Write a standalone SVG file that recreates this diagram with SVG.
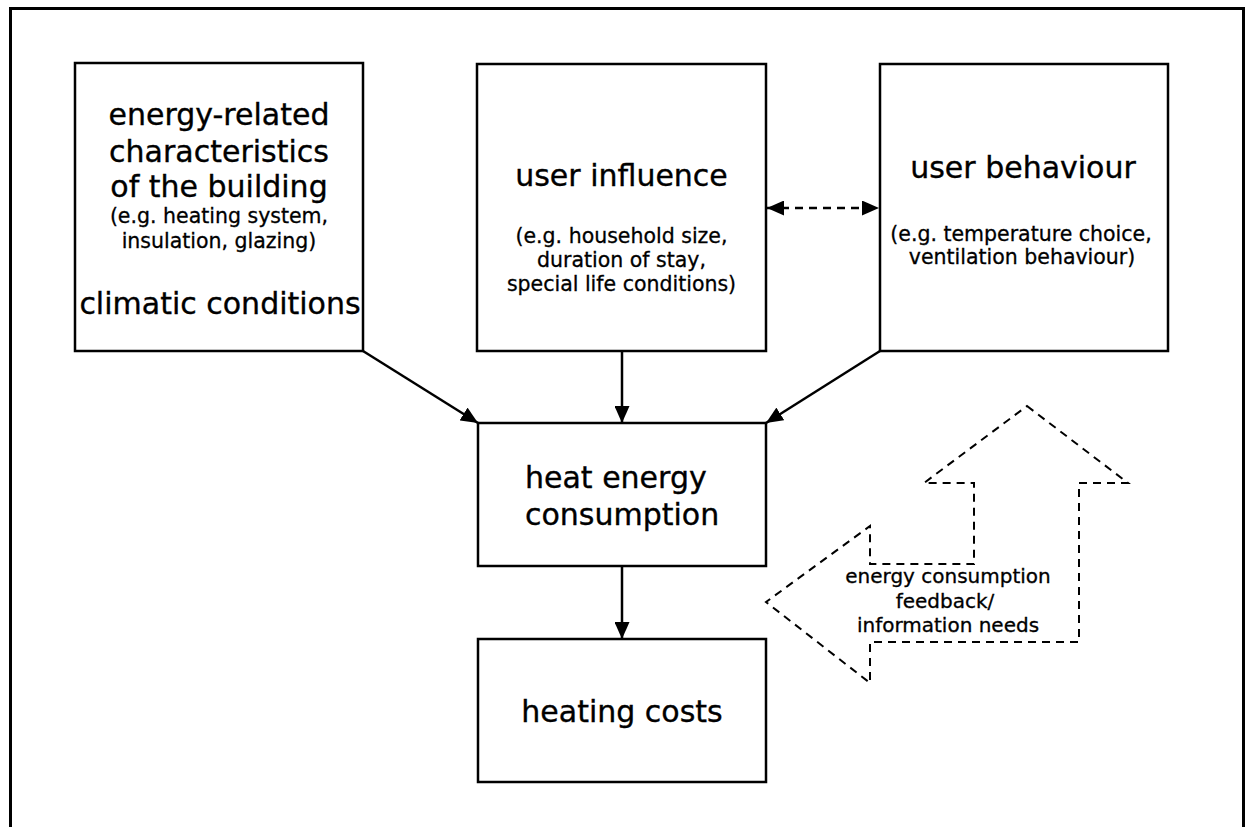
<svg xmlns="http://www.w3.org/2000/svg" width="1247" height="827" viewBox="0 0 1247 827">
<style>
  .box { fill: #fff; stroke: #000; stroke-width: 2.5; }
  .big { font-family: "DejaVu Sans", Verdana, sans-serif; font-size: 30px; fill: #000; stroke: #000; stroke-width: 0.35; text-anchor: middle; }
  .small { font-family: "DejaVu Sans", Verdana, sans-serif; font-size: 20.5px; fill: #000; stroke: #000; stroke-width: 0.3; text-anchor: middle; }
  .conn { stroke: #000; stroke-width: 2.5; fill: none; }
  .dash { stroke: #000; stroke-width: 2.5; fill: none; stroke-dasharray: 8 6; }
  .fb { stroke: #000; stroke-width: 2; fill: none; stroke-dasharray: 8 6; }
</style>
<defs>
  <marker id="ah" markerUnits="userSpaceOnUse" markerWidth="17" markerHeight="15" viewBox="0 0 17 15" refX="17" refY="7.5" orient="auto-start-reverse">
    <path d="M0,0 L17,7.5 L0,15 z" fill="#000"/>
  </marker>
</defs>
<rect width="1247" height="827" fill="#fff"/>
<rect id="frame" x="10.5" y="8.5" width="1233" height="850" fill="none" stroke="#000" stroke-width="3"/>

<g id="building">
  <rect class="box" x="75" y="63" width="288" height="288"/>
  <text class="big" x="219" y="125">energy-related</text>
  <text class="big" x="219" y="162">characteristics</text>
  <text class="big" x="219" y="197">of the building</text>
  <text class="small" x="219" y="223">(e.g. heating system,</text>
  <text class="small" x="219" y="248">insulation, glazing)</text>
  <text class="big" x="220" y="314">climatic conditions</text>
</g>

<g id="influence">
  <rect class="box" x="477" y="64" width="289" height="287"/>
  <text class="big" x="621.5" y="186">user influence</text>
  <text class="small" x="621.5" y="243">(e.g. household size,</text>
  <text class="small" x="621.5" y="267">duration of stay,</text>
  <text class="small" x="621.5" y="291">special life conditions)</text>
</g>

<g id="behaviour">
  <rect class="box" x="880" y="64" width="288" height="287"/>
  <text class="big" x="1023" y="178">user behaviour</text>
  <text class="small" x="1021" y="241">(e.g. temperature choice,</text>
  <text class="small" x="1022" y="264">ventilation behaviour)</text>
</g>

<g id="consumption">
  <rect class="box" x="478" y="423" width="288" height="143"/>
  <text class="big" x="525" y="488" style="text-anchor:start">heat energy</text>
  <text class="big" x="525" y="525" style="text-anchor:start">consumption</text>
</g>

<g id="costs">
  <rect class="box" x="478" y="639" width="288" height="143"/>
  <text class="big" x="622" y="722">heating costs</text>
</g>

<g id="feedback">
  <polygon class="fb" points="1027,406 1128,483 1079,483 1079,642 870,642 870,683 766,602 870,526 870,564 974,564 974,483 924,483"/>
  <text class="small" style="font-size:20px" x="948" y="583">energy consumption</text>
  <text class="small" style="font-size:20px" x="945" y="608">feedback/</text>
  <text class="small" style="font-size:20px" x="948" y="632">information needs</text>
</g>

<g id="connectors">
  <line class="conn" x1="363" y1="351" x2="478" y2="423" marker-end="url(#ah)"/>
  <line class="conn" x1="622" y1="351" x2="622" y2="423" marker-end="url(#ah)"/>
  <line class="conn" x1="880" y1="351" x2="766" y2="423" marker-end="url(#ah)"/>
  <line class="conn" x1="622" y1="566" x2="622" y2="639" marker-end="url(#ah)"/>
  <line class="dash" x1="767" y1="208" x2="879" y2="208" marker-start="url(#ah)" marker-end="url(#ah)"/>
</g>
</svg>
